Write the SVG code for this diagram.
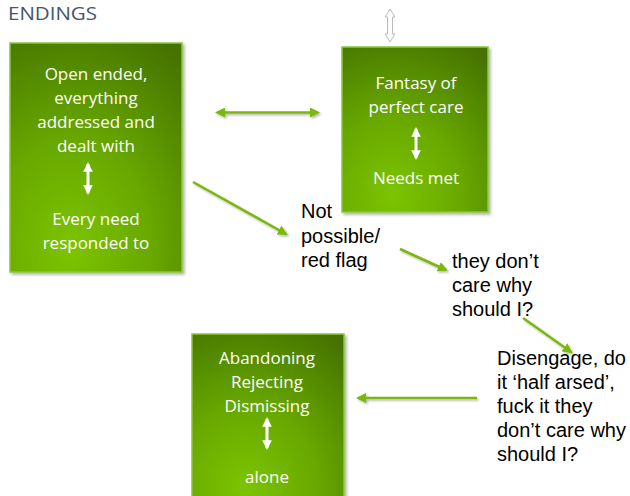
<svg xmlns="http://www.w3.org/2000/svg" width="630" height="496" viewBox="0 0 630 496">
<defs>
<radialGradient id="g" cx="0.35" cy="0.9" r="1.05" fx="0.35" fy="0.9">
<stop offset="0" stop-color="#7cc400"/>
<stop offset="0.45" stop-color="#68a800"/>
<stop offset="1" stop-color="#457200"/>
</radialGradient>
<filter id="sh" x="-10%" y="-10%" width="130%" height="130%">
<feDropShadow dx="2" dy="2" stdDeviation="1.5" flood-color="#000" flood-opacity="0.3"/>
</filter>
<filter id="lsh" filterUnits="userSpaceOnUse" x="0" y="0" width="630" height="496">
<feDropShadow dx="1.5" dy="1.5" stdDeviation="1.2" flood-color="#000" flood-opacity="0.3"/>
</filter>
<marker id="ah" viewBox="0 0 10 10" refX="8" refY="5" markerWidth="4" markerHeight="4" orient="auto-start-reverse" markerUnits="strokeWidth">
<path d="M0,0 L10,5 L0,10 z" fill="#7cb70f"/>
</marker>
<marker id="wh" viewBox="0 0 10 10" refX="8" refY="5" markerWidth="3.2" markerHeight="3.2" orient="auto-start-reverse" markerUnits="strokeWidth">
<path d="M0,0 L10,5 L0,10 z" fill="#fff"/>
</marker>
</defs>
<style>
.box{fill:url(#g);stroke:#8cc63f;stroke-width:1.5;filter:url(#sh)}
.wt{font-family:"Open Sans","Liberation Sans",sans-serif;font-size:17px;fill:#fff;text-anchor:middle}
.bt{font-family:"Liberation Sans",Arial,sans-serif;font-size:20px;fill:#000}
.con{stroke:#7cb70f;stroke-width:2.5;fill:none}
.wa{stroke:#fff;stroke-width:3;fill:none}
</style>
<text x="8" y="20" font-family="'Open Sans','Liberation Sans',sans-serif" font-size="18" fill="#44546a" textLength="89" lengthAdjust="spacingAndGlyphs">ENDINGS</text>

<g id="top-arrow">
<path d="M390,9 L395,17 L392.5,17 L392.5,34 L395,34 L390,42 L385,34 L387.5,34 L387.5,17 L385,17 Z" fill="#fff" stroke="#bbb" stroke-width="1"/>
</g>

<g id="n1">
<rect class="box" x="10" y="43" width="172" height="229"/>
<text class="wt" x="96" y="80">Open ended,</text>
<text class="wt" x="96" y="104">everything</text>
<text class="wt" x="96" y="128">addressed and</text>
<text class="wt" x="96" y="152">dealt with</text>
<line class="wa" x1="88" y1="164" x2="88" y2="193" marker-start="url(#wh)" marker-end="url(#wh)"/>
<text class="wt" x="96" y="225">Every need</text>
<text class="wt" x="96" y="249">responded to</text>
</g>

<g id="n2">
<rect class="box" x="342" y="47" width="146" height="165"/>
<text class="wt" x="416" y="89">Fantasy of</text>
<text class="wt" x="416" y="113">perfect care</text>
<line class="wa" x1="416" y1="129" x2="416" y2="158" marker-start="url(#wh)" marker-end="url(#wh)"/>
<text class="wt" x="416" y="184">Needs met</text>
</g>

<g id="n3">
<rect class="box" x="192" y="334" width="152" height="170"/>
<text class="wt" x="267" y="364">Abandoning</text>
<text class="wt" x="267" y="388">Rejecting</text>
<text class="wt" x="267" y="412">Dismissing</text>
<line class="wa" x1="267" y1="419" x2="267" y2="448" marker-start="url(#wh)" marker-end="url(#wh)"/>
<text class="wt" x="267" y="483">alone</text>
</g>

<g id="t1">
<text class="bt" x="301" y="218">Not</text>
<text class="bt" x="301" y="243">possible/</text>
<text class="bt" x="301" y="267">red flag</text>
</g>
<g id="t2">
<text class="bt" x="452" y="268">they don’t</text>
<text class="bt" x="452" y="292">care why</text>
<text class="bt" x="452" y="316">should I?</text>
</g>
<g id="t3">
<text class="bt" x="497" y="365">Disengage, do</text>
<text class="bt" x="497" y="389">it ‘half arsed’,</text>
<text class="bt" x="497" y="413">fuck it they</text>
<text class="bt" x="497" y="437">don’t care why</text>
<text class="bt" x="497" y="461">should I?</text>
</g>

<g id="connectors" filter="url(#lsh)">
<line class="con" x1="217" y1="112.5" x2="318" y2="112.5" marker-start="url(#ah)" marker-end="url(#ah)"/>
<line class="con" x1="193" y1="182" x2="286" y2="234" marker-end="url(#ah)"/>
<line class="con" x1="400" y1="249" x2="446" y2="270" marker-end="url(#ah)"/>
<line class="con" x1="523" y1="318" x2="571" y2="352" marker-end="url(#ah)"/>
<line class="con" x1="477" y1="398" x2="358" y2="398" marker-end="url(#ah)"/>
</g>
</svg>
